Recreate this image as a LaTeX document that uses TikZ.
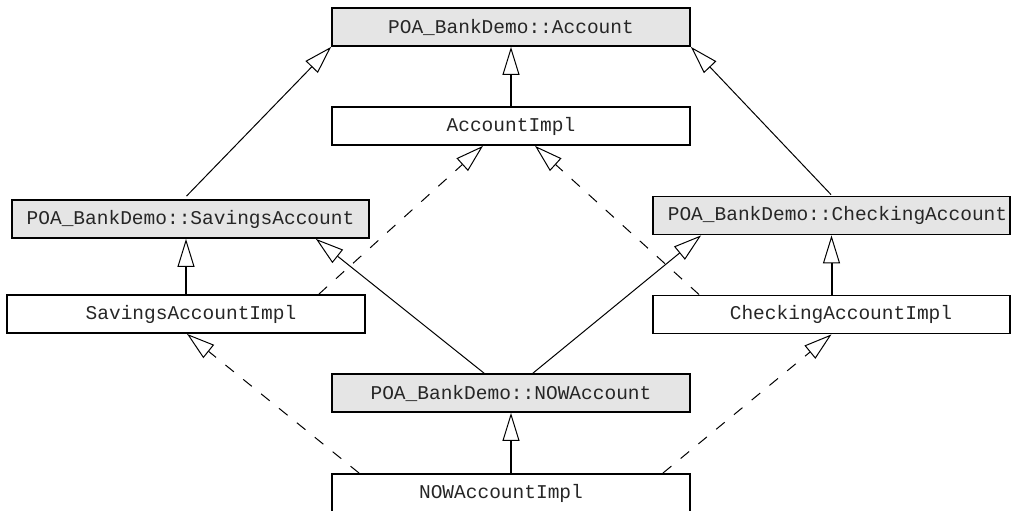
\documentclass[tikz,border=0pt]{standalone}
\usepackage{fontspec}
\setmonofont{Liberation Mono}
\usetikzlibrary{arrows.meta}
\begin{document}
\begin{tikzpicture}[x=1pt,y=-1pt,
  box/.style={draw=black, line width=1.8pt, minimum width=358pt, minimum height=38pt, inner sep=0pt,
    font=\ttfamily\fontsize{19.5}{20}\selectfont, text=black!85},
  abs/.style={box, fill=black!10},
  inh/.style={-{Triangle[open,length=28pt,width=17pt,line width=1pt]}, line width=1pt},
  vinh/.style={inh, line width=2pt},
  real/.style={inh, dash pattern=on 11pt off 12pt}]
\useasboundingbox (0,0) rectangle (1012,511);
\node[abs] (A) at (511,27) {POA\_BankDemo::Account};
\node[box] (AI) at (511,126) {AccountImpl};
\node[abs, minimum width=357pt] (S) at (190.5,219) {POA\_BankDemo::SavingsAccount};
\node[abs, minimum width=357pt] (C) at (831.5,215.5) {\hspace*{12pt}POA\_BankDemo::CheckingAccount};
\node[box] (SI) at (186,314) {\hspace*{10pt}SavingsAccountImpl};
\node[box, minimum width=357pt] (CI) at (831.5,314.5) {\hspace*{19pt}CheckingAccountImpl};
\node[abs] (N) at (511,393) {POA\_BankDemo::NOWAccount};
\node[box] (NI) at (511,493) {\hspace*{-20pt}NOWAccountImpl};
% generalisation
\draw[vinh] (AI.north) -- (A.south);
\draw[inh] ([xshift=-4pt,yshift=3pt]S.north) -- (A.south west);
\draw[inh] ([xshift=-0.5pt,yshift=1pt]C.north) -- (A.south east);
\draw[vinh] (SI.north) -- (SI.north |- S.south);
\draw[vinh] (CI.north) -- (CI.north |- C.south);
\draw[inh] ([xshift=-27pt]N.north) -- ([xshift=-54pt]S.south east);
\draw[inh] ([xshift=22pt]N.north) -- ([xshift=49pt]C.south west);
\draw[vinh] (NI.north) -- (N.south);
% realisation
\draw[real] ([xshift=-47pt]SI.north east) -- ([xshift=-28pt]AI.south);
\draw[real] ([xshift=47pt]CI.north west) -- ([xshift=24pt]AI.south);
\draw[real] ([xshift=28pt]NI.north west) -- ([xshift=1pt]SI.south);
\draw[real] ([xshift=-28pt]NI.north east) -- (CI.south);
\end{tikzpicture}
\end{document}
